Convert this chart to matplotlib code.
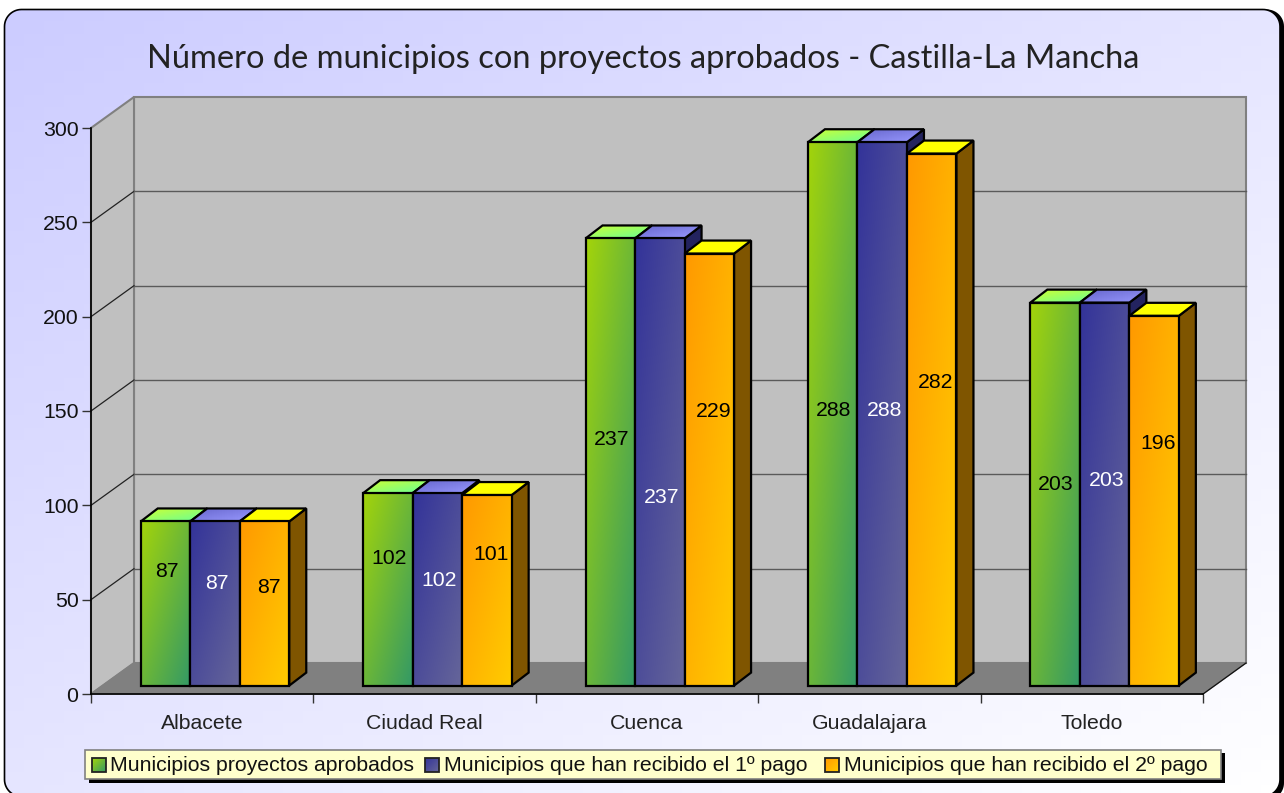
import numpy as np
import matplotlib
matplotlib.use('Agg')
import matplotlib.pyplot as plt
from matplotlib.colors import to_rgb
from matplotlib.patches import Polygon, Rectangle
from matplotlib.transforms import Affine2D, IdentityTransform

categories = ['Albacete', 'Ciudad Real', 'Cuenca', 'Guadalajara', 'Toledo']
series_names = ['Municipios proyectos aprobados',
                'Municipios que han recibido el 1º pago',
                'Municipios que han recibido el 2º pago']
aprobados = [87, 102, 237, 288, 203]
primer_pago = [87, 102, 237, 288, 203]
segundo_pago = [87, 101, 229, 282, 196]
y_ticks = [0, 50, 100, 150, 200, 250, 300]

# heights at which the value labels float inside the bars
label_aprobados = [61.5, 68, 131.4, 146.8, 107.6]
label_primer = [55, 56.7, 100.7, 146.8, 109.7]
label_segundo = [53, 70.5, 146.3, 161.6, 129.3]

W, H = 1284, 793
AX_LEFT, AX_RIGHT, AX_BOTTOM, AX_TOP = 91, 1203, 694, 128
WALL_DX, WALL_DY = 43, 31
BAR_DX, BAR_DY = 12.8, 8.4
SIDE_DX, SIDE_DY = 17, 13
BAR_W = 0.2226
FONT = ['Liberation Sans', 'DejaVu Sans']
FS = 15.35

FRONT = [('#a3d40a', '#339966'), ('#333399', '#666699'), ('#ff9900', '#ffcc00')]
TOP = [('#d0ff30', '#66ff99'), ('#6666cc', '#9999ff'), ('#ffff00', '#ffff00')]
SIDE = ['#4d6633', '#23235f', '#7f5500']
TEXT_COL = ['black', 'white', 'black']
LABEL_DX = [1, 2, 4]


def gradient(c0, c1, n=64):
    # diagonal ramp, first colour top left, last colour bottom right
    u, v = np.meshgrid(np.linspace(0, 1, n), np.linspace(0, 1, n))
    t = ((u + v) / 2)[..., None]
    return (1 - t) * np.array(to_rgb(c0)) + t * np.array(to_rgb(c1))


def rounded_outline(x0, y0, x1, y1, r):
    # plain polygon, agg mangles bezier corners that fall off the canvas
    a = np.linspace(0, np.pi / 2, 16)
    pts = []
    for cx, cy, start in [(x1 - r, y0 + r, -np.pi / 2), (x1 - r, y1 - r, 0),
                          (x0 + r, y1 - r, np.pi / 2), (x0 + r, y0 + r, np.pi)]:
        pts += list(zip(cx + r * np.cos(start + a), cy + r * np.sin(start + a)))
    return pts


def draw_background(bg):
    bg.add_patch(Polygon(rounded_outline(8, 9.5, 1284, 800, 17), fc='black', ec='none', zorder=1))
    box = Polygon(rounded_outline(4.5, 9.5, 1280, 796.5, 17), fc='none', ec='black', lw=1.2, zorder=3)
    bg.add_patch(box)
    im = bg.imshow(gradient('#ccccff', '#ffffff'), extent=(4, 1281, 797, 9), aspect='auto', zorder=2)
    im.set_clip_path(box)


def draw_legend(bg):
    bg.add_patch(Rectangle((89, 753), 1136, 30, fc='black', ec='none', zorder=4))
    bg.add_patch(Rectangle((85, 749.5), 1136, 29.5, fc='#ffffcc', ec='#808080', lw=1.2, zorder=5))
    for i, name in enumerate(series_names):
        x0 = [91.5, 425, 825][i]
        bg.imshow(gradient(*FRONT[i]), extent=(x0, x0 + 14, 772, 758), aspect='auto', zorder=6)
        bg.add_patch(Rectangle((x0, 758), 14, 14, fc='none', ec='#222222', lw=1.3, zorder=7))
        bg.text(x0 + 18.5, 765.5, name, fontsize=FS, family=FONT, va='center', ha='left',
                color='#111111', zorder=7)
    bg.set_xlim(0, W)
    bg.set_ylim(H, 0)


def draw_walls(ax):
    def px(x, y, d=0.0):
        p = ax.transData.transform((x, y))
        return p[0] + d * WALL_DX, p[1] + d * WALL_DY

    x0, x1 = ax.get_xlim()
    y0, y1 = ax.get_ylim()
    idt = IdentityTransform()
    ax.add_patch(Polygon([px(x0, y0, 1), px(x1, y0, 1), px(x1, y1, 1), px(x0, y1, 1)], transform=idt,
                         fc='#c0c0c0', ec='#808080', lw=1.5, zorder=1, clip_on=False))
    ax.add_patch(Polygon([px(x0, y0), px(x0, y0, 1), px(x0, y1, 1), px(x0, y1)], transform=idt,
                         fc='#c0c0c0', ec='#808080', lw=1.5, zorder=1, clip_on=False))
    ax.add_patch(Polygon([px(x0, y0), px(x1, y0), px(x1, y0, 1), px(x0, y0, 1)], transform=idt,
                         fc='#808080', ec='#808080', lw=1, zorder=1.5, clip_on=False))
    for t in y_ticks[1:-1]:
        a, b, c = px(x0, t), px(x0, t, 1), px(x1, t, 1)
        ax.plot([a[0], b[0]], [a[1], b[1]], transform=idt, color='#222222', lw=0.9, zorder=2, clip_on=False)
        ax.plot([b[0], c[0]], [b[1], c[1]], transform=idt, color='#5a5a5a', lw=1, zorder=2, clip_on=False)
    a, b = px(x1, y0), px(x1, y0, 1)
    ax.plot([a[0], b[0]], [a[1], b[1]], transform=idt, color='#111111', lw=0.9, zorder=2, clip_on=False)


def draw_bar(ax, x, value, series, z):
    front = ax.transData + Affine2D().translate(BAR_DX, BAR_DY)
    left, right = x - BAR_W / 2, x + BAR_W / 2
    idt = IdentityTransform()
    br = np.array(front.transform((right, 0)))
    tl = np.array(front.transform((left, value)))
    tr = np.array(front.transform((right, value)))
    d = np.array([SIDE_DX, SIDE_DY])

    ax.add_patch(Polygon([br, br + d, tr + d, tr], transform=idt, fc=SIDE[series], ec='black',
                         lw=1.6, zorder=z, clip_on=False))

    top = Polygon([tl, tr, tr + d, tl + d], transform=idt, fc='none', ec='black', lw=1.6,
                  zorder=z + 0.2, clip_on=False)
    ax.add_patch(top)
    im = ax.imshow(gradient(*TOP[series]), aspect='auto', zorder=z + 0.1,
                   extent=(tl[0], tr[0] + d[0], tl[1], tl[1] + d[1]), transform=idt)
    im.set_clip_path(top)

    rect = ax.bar(x, value, BAR_W, transform=front, fc='none', ec='black', lw=1.6,
                  zorder=z + 0.4, clip_on=False)[0]
    im = ax.imshow(gradient(*FRONT[series]), aspect='auto', zorder=z + 0.3,
                   extent=(left, right, 0, value), origin='upper', transform=front)
    im.set_clip_path(rect)


def main():
    fig = plt.figure(figsize=(W / 100, H / 100), dpi=100, facecolor='white')
    bg = fig.add_axes([0, 0, 1, 1])
    bg.axis('off')
    draw_background(bg)
    draw_legend(bg)

    bg.text(643.5, 59, 'Número de municipios con proyectos aprobados - Castilla-La Mancha',
            fontsize=23.5, family=['Lato', 'DejaVu Sans'], ha='center', va='center',
            color='#222222', zorder=8)

    ax = fig.add_axes([AX_LEFT / W, 1 - AX_BOTTOM / H, (AX_RIGHT - AX_LEFT) / W, (AX_BOTTOM - AX_TOP) / H])
    ax.patch.set_alpha(0)
    xs = np.arange(len(categories))
    ax.set_xlim(-0.5, len(categories) - 0.5)
    ax.set_ylim(y_ticks[0], y_ticks[-1])
    ax.set_autoscale_on(False)

    for side in ['top', 'right']:
        ax.spines[side].set_visible(False)
    ax.spines['left'].set_linewidth(1.2)
    ax.spines['bottom'].set_linewidth(1.2)
    ax.set_xticks(np.arange(len(categories) + 1) - 0.5)
    ax.set_xticklabels([])
    ax.set_xticks(xs, categories, minor=True)
    ax.set_yticks(y_ticks)
    ax.tick_params(axis='x', which='major', length=6.5, width=1, color='#333333')
    ax.tick_params(axis='x', which='minor', length=0, pad=14.5, labelsize=FS, labelcolor='#222222')
    ax.tick_params(axis='y', length=6.5, width=1, color='#333333', pad=2.5, labelsize=FS, labelcolor='#111111')
    for t in ax.get_xticklabels(minor=True) + ax.get_yticklabels():
        t.set_family(FONT)

    draw_walls(ax)

    values = [aprobados, primer_pago, segundo_pago]
    heights = [label_aprobados, label_primer, label_segundo]
    z = 3
    for i, x in enumerate(xs):
        for s in range(3):
            cx = x + (s - 1) * BAR_W
            draw_bar(ax, cx, values[s][i], s, z)
            z += 1
    label_z = z + 1
    shifted = ax.transData + Affine2D().translate(BAR_DX, BAR_DY - 1.5)
    for s in range(3):
        tr = shifted + Affine2D().translate(LABEL_DX[s], 0)
        for i, x in enumerate(xs):
            ax.text(x + (s - 1) * BAR_W, heights[s][i], str(values[s][i]), transform=tr, fontsize=FS,
                    family=FONT, color=TEXT_COL[s], ha='center', va='center', zorder=label_z)

    fig.savefig('out.png', dpi=100)


if __name__ == '__main__':
    main()
